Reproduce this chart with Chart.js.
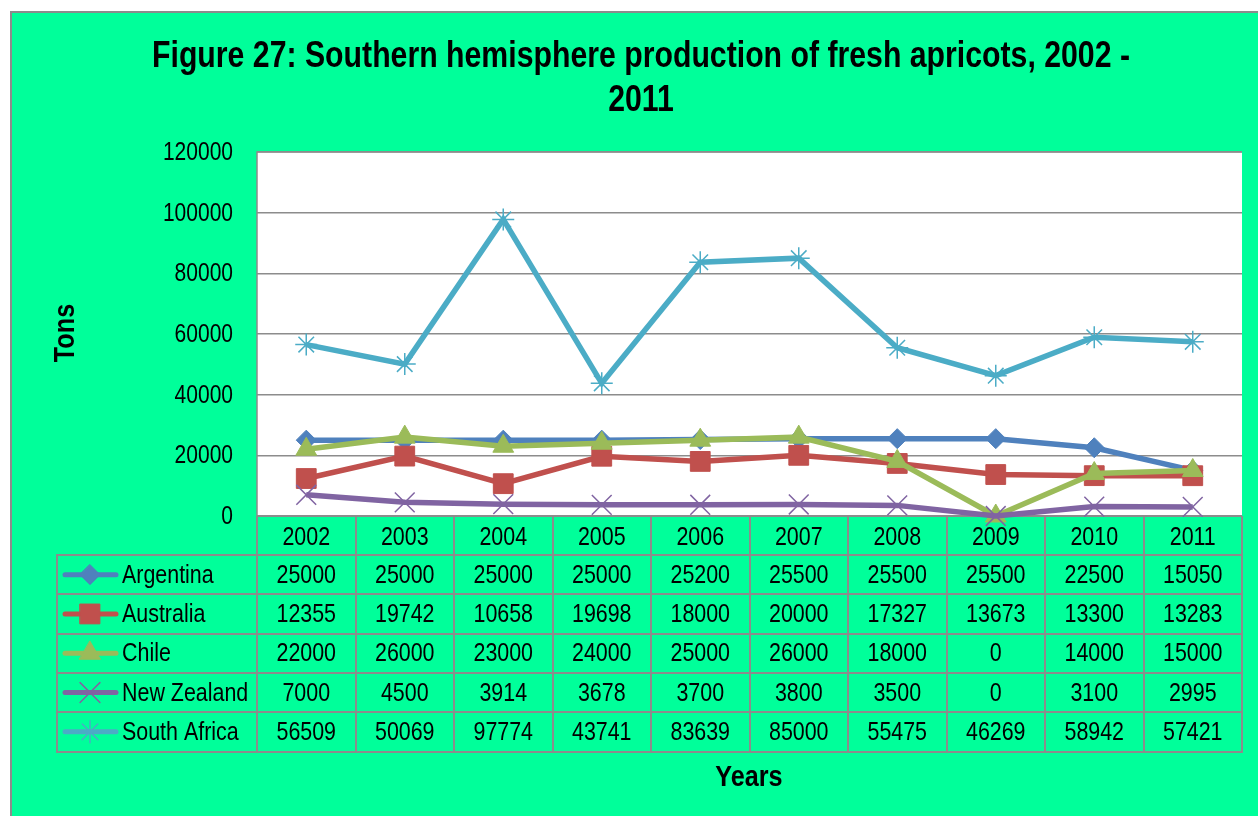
<!DOCTYPE html>
<html>
<head>
<meta charset="utf-8">
<script src="https://cdn.jsdelivr.net/npm/chart.js@4/dist/chart.umd.min.js"></script>
<style>
html,body{margin:0;padding:0;background:#fff;}
#wrap{width:1258px;height:816px;position:relative;}
</style>
</head>
<body>
<div id="wrap"><canvas id="c" width="1258" height="816"></canvas></div>
<script>
const years = ['2002','2003','2004','2005','2006','2007','2008','2009','2010','2011'];
const argentina = [25000,25000,25000,25000,25200,25500,25500,25500,22500,15050];
const australia = [12355,19742,10658,19698,18000,20000,17327,13673,13300,13283];
const chile = [22000,26000,23000,24000,25000,26000,18000,0,14000,15000];
const newZealand = [7000,4500,3914,3678,3700,3800,3500,0,3100,2995];
const southAfrica = [56509,50069,97774,43741,83639,85000,55475,46269,58942,57421];
const seriesNames = ['Argentina','Australia','Chile','New Zealand','South Africa'];
const yTicks = [0,20000,40000,60000,80000,100000,120000];
const titleLines = ['Figure 27: Southern hemisphere production of fresh apricots, 2002 -','2011'];
const xTitle = 'Years';
const yTitle = 'Tons';

const FONT = "'Liberation Sans','Arial',sans-serif";
const SX = 0.84;
const GREEN = '#00FF9A';
const GRID = '#8C8C8C';

const styles = [
  {color:'#4F81BD', point:'rectRot', r:10, bw:1},
  {color:'#C0504D', point:'rect', r:14, bw:1},
  {color:'#9BBB59', point:'triangle', r:12, bw:1},
  {color:'#8064A2', point:'crossRot', r:14, bw:1.5},
  {color:'#4BACC6', point:'star', r:11, bw:1.5}
];
const values = [argentina, australia, chile, newZealand, southAfrica];

const datasets = values.map((v,i)=>({
  label: seriesNames[i],
  data: v,
  borderColor: styles[i].color,
  backgroundColor: styles[i].color,
  pointBackgroundColor: styles[i].color,
  pointBorderColor: styles[i].color,
  pointStyle: styles[i].point,
  pointRadius: styles[i].r,
  pointHoverRadius: styles[i].r,
  pointBorderWidth: styles[i].bw,
  borderWidth: 5.5,
  tension: 0,
  clip: 20,
  order: 5 - i
}));

function txt(ctx, s, x, y, font, align, sx) {
  ctx.save();
  ctx.font = font;
  ctx.textAlign = align;
  ctx.translate(x, y);
  ctx.scale(sx || SX, 1);
  ctx.fillText(s, 0, 0);
  ctx.restore();
}

function drawMarker(ctx, st, x, y) {
  const r = st.r;
  ctx.save();
  ctx.fillStyle = st.color;
  ctx.strokeStyle = st.color;
  ctx.lineWidth = st.bw;
  ctx.beginPath();
  if (st.point === 'rectRot') {
    ctx.moveTo(x, y - r); ctx.lineTo(x + r, y); ctx.lineTo(x, y + r); ctx.lineTo(x - r, y); ctx.closePath();
    ctx.fill(); ctx.stroke();
  } else if (st.point === 'rect') {
    const s = r * Math.SQRT1_2;
    ctx.rect(x - s, y - s, 2 * s, 2 * s); ctx.fill(); ctx.stroke();
  } else if (st.point === 'triangle') {
    ctx.moveTo(x, y - r); ctx.lineTo(x + r * 0.866, y + r / 2); ctx.lineTo(x - r * 0.866, y + r / 2); ctx.closePath();
    ctx.fill(); ctx.stroke();
  } else if (st.point === 'crossRot') {
    const s = r * Math.SQRT1_2;
    ctx.moveTo(x - s, y - s); ctx.lineTo(x + s, y + s);
    ctx.moveTo(x + s, y - s); ctx.lineTo(x - s, y + s); ctx.stroke();
  } else if (st.point === 'star') {
    const s = r * Math.SQRT1_2;
    ctx.moveTo(x - s, y - s); ctx.lineTo(x + s, y + s);
    ctx.moveTo(x + s, y - s); ctx.lineTo(x - s, y + s);
    ctx.moveTo(x, y - r); ctx.lineTo(x, y + r);
    ctx.moveTo(x - r, y); ctx.lineTo(x + r, y); ctx.stroke();
  }
  ctx.restore();
}

const framePlugin = {
  id: 'frame',
  beforeDraw(chart) {
    const ctx = chart.ctx;
    const ca = chart.chartArea;
    ctx.save();
    ctx.fillStyle = '#fff';
    ctx.fillRect(0,0,chart.width,chart.height);
    ctx.fillStyle = GREEN;
    ctx.fillRect(11,12,chart.width,chart.height);
    ctx.strokeStyle = GRID;
    ctx.lineWidth = 2;
    ctx.beginPath();
    ctx.moveTo(11, chart.height+5); ctx.lineTo(11,12); ctx.lineTo(chart.width+5,12);
    ctx.stroke();
    ctx.fillStyle = '#fff';
    ctx.fillRect(ca.left, ca.top, ca.right-ca.left, ca.bottom-ca.top);
    ctx.strokeStyle = GRID;
    ctx.lineWidth = 1.5;
    ctx.beginPath();
    ctx.moveTo(ca.left, ca.bottom); ctx.lineTo(ca.left, ca.top); ctx.lineTo(ca.right, ca.top);
    ctx.stroke();
    ctx.fillStyle = '#000';
    ctx.textBaseline = 'alphabetic';
    txt(ctx, titleLines[0], 641, 67, 'bold 36px ' + FONT, 'center');
    txt(ctx, titleLines[1], 641, 111, 'bold 36px ' + FONT, 'center');
    txt(ctx, xTitle, 749, 786, 'bold 30px ' + FONT, 'center');
    ctx.save();
    ctx.translate(74, 333);
    ctx.rotate(-Math.PI/2);
    ctx.font = 'bold 30px ' + FONT;
    ctx.textAlign = 'center';
    ctx.scale(SX, 1);
    ctx.fillText(yTitle, 0, 0);
    ctx.restore();
    const ys = chart.scales.y;
    ctx.textBaseline = 'middle';
    yTicks.forEach(v => {
      txt(ctx, String(v), 233, ys.getPixelForValue(v) + 1, '25px ' + FONT, 'right');
    });
    ctx.restore();
  },
  beforeDatasetsDraw(chart) {
    const ctx = chart.ctx;
    const ca = chart.chartArea;
    const xs = chart.scales.x;
    const n = years.length;
    const colW = (ca.right - ca.left) / n;
    const headTop = Math.round(ca.bottom), headBot = 555;
    const rowH = 39.3;
    const tableLeft = 57;
    const rowY = r => Math.round(headBot + rowH * r);
    const tableBottom = rowY(seriesNames.length);
    ctx.save();
    ctx.strokeStyle = GRID;
    ctx.lineWidth = 2;
    ctx.beginPath();
    for (let i = 0; i <= n; i++) {
      const x = Math.round(ca.left + colW * i);
      ctx.moveTo(x, headTop); ctx.lineTo(x, tableBottom + 1);
    }
    ctx.moveTo(tableLeft, headBot); ctx.lineTo(tableLeft, tableBottom + 1);
    ctx.moveTo(ca.left, headTop); ctx.lineTo(ca.right, headTop);
    for (let r = 0; r <= seriesNames.length; r++) {
      const y = rowY(r);
      ctx.moveTo(tableLeft - 1, y); ctx.lineTo(ca.right + 1, y);
    }
    ctx.stroke();
    ctx.fillStyle = '#000';
    ctx.textBaseline = 'middle';
    const f = '25.5px ' + FONT;
    for (let i = 0; i < n; i++) {
      const x = xs.getPixelForValue(i);
      txt(ctx, years[i], x, (headTop + headBot)/2 + 2, f, 'center');
      for (let r = 0; r < seriesNames.length; r++) {
        const y = headBot + rowH * r + rowH/2 + 1;
        txt(ctx, String(values[r][i]), x, y, f, 'center');
      }
    }
    for (let r = 0; r < seriesNames.length; r++) {
      const y = headBot + rowH * r + rowH/2;
      ctx.strokeStyle = styles[r].color;
      ctx.lineWidth = 5;
      ctx.lineCap = 'round';
      ctx.beginPath(); ctx.moveTo(65, y); ctx.lineTo(116, y); ctx.stroke();
      drawMarker(ctx, styles[r], 90, y);
      ctx.fillStyle = '#000';
      txt(ctx, seriesNames[r], 122, y + 1, f, 'left');
    }
    ctx.restore();
  }
};

new Chart(document.getElementById('c'), {
  type: 'line',
  data: { labels: years, datasets },
  options: {
    responsive: false,
    animation: false,
    devicePixelRatio: 1,
    layout: { padding: { left: 0, top: 152, right: 16, bottom: 300 } },
    plugins: { legend: { display: false }, tooltip: { enabled: false }, title: { display: false } },
    events: [],
    scales: {
      x: { type: 'category', display: false, offset: true },
      y: {
        min: 0, max: 120000,
        afterFit(s) { s.width = 257; },
        afterBuildTicks(s) { s.ticks = yTicks.map(v => ({value: v})); },
        grid: { color: GRID, lineWidth: 1.5, drawTicks: false },
        border: { display: false },
        ticks: { display: false }
      }
    }
  },
  plugins: [framePlugin]
});
</script>
</body>
</html>
